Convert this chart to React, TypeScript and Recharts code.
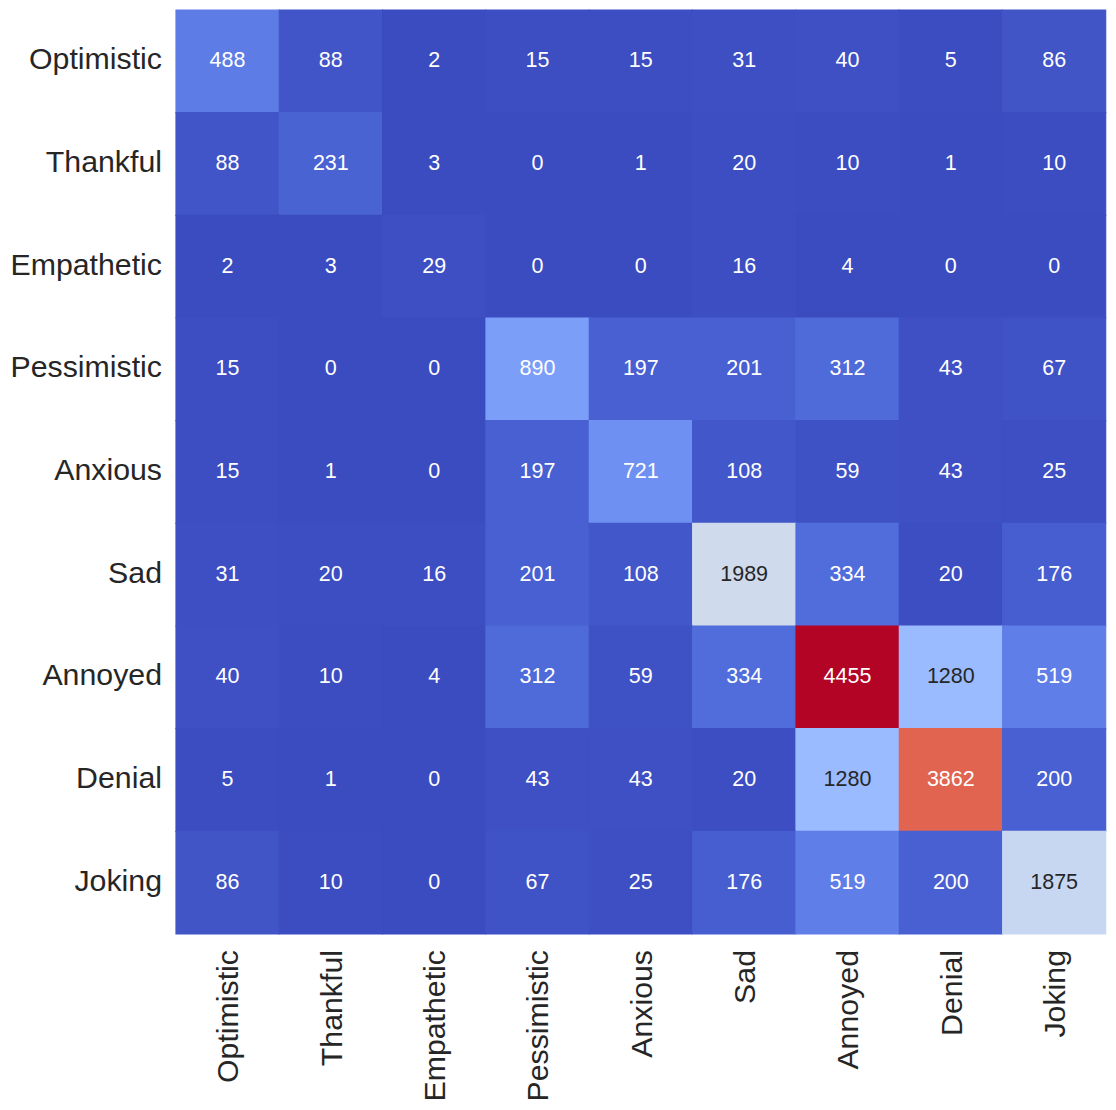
import { BarChart, Bar, XAxis, YAxis, Cell, LabelList } from 'recharts';

const emotions = ['Optimistic', 'Thankful', 'Empathetic', 'Pessimistic', 'Anxious', 'Sad', 'Annoyed', 'Denial', 'Joking'];

// confusion counts, one array per row (true label), columns in the same order as emotions
const optimistic = [488, 88, 2, 15, 15, 31, 40, 5, 86];
const thankful = [88, 231, 3, 0, 1, 20, 10, 1, 10];
const empathetic = [2, 3, 29, 0, 0, 16, 4, 0, 0];
const pessimistic = [15, 0, 0, 890, 197, 201, 312, 43, 67];
const anxious = [15, 1, 0, 197, 721, 108, 59, 43, 25];
const sad = [31, 20, 16, 201, 108, 1989, 334, 20, 176];
const annoyed = [40, 10, 4, 312, 59, 334, 4455, 1280, 519];
const denial = [5, 1, 0, 43, 43, 20, 1280, 3862, 200];
const joking = [86, 10, 0, 67, 25, 176, 519, 200, 1875];

const matrix = [optimistic, thankful, empathetic, pessimistic, anxious, sad, annoyed, denial, joking];

// Moreland diverging (coolwarm) table, 33 stops
const coolwarm = [
  [59, 76, 192], [68, 90, 204], [77, 104, 215], [87, 117, 225], [98, 130, 234],
  [108, 142, 241], [119, 154, 247], [130, 165, 251], [141, 176, 254], [152, 185, 255],
  [163, 194, 255], [174, 201, 253], [184, 208, 249], [194, 213, 244], [204, 217, 238],
  [213, 219, 230], [221, 221, 221], [229, 216, 209], [236, 211, 197], [241, 204, 185],
  [245, 196, 173], [247, 187, 160], [247, 177, 148], [247, 166, 135], [244, 154, 123],
  [241, 141, 111], [236, 127, 99], [229, 112, 88], [222, 96, 77], [213, 80, 66],
  [203, 62, 56], [192, 40, 47], [180, 4, 38],
];

const vmin = Math.min(...matrix.flat());
const vmax = Math.max(...matrix.flat());

function rgbFor(v: number) {
  const t = (v - vmin) / (vmax - vmin);
  const pos = t * (coolwarm.length - 1);
  const i = Math.min(Math.floor(pos), coolwarm.length - 2);
  const f = pos - i;
  return coolwarm[i].map((c, k) => Math.round(c + (coolwarm[i + 1][k] - c) * f));
}

function colorFor(v: number) {
  const [r, g, b] = rgbFor(v);
  return `rgb(${r},${g},${b})`;
}

// same rule seaborn uses to pick annotation colour
function textColorFor(v: number) {
  const lin = rgbFor(v).map((c) => {
    const s = c / 255;
    return s <= 0.03928 ? s / 12.92 : Math.pow((s + 0.055) / 1.055, 2.4);
  });
  const lum = 0.2126 * lin[0] + 0.7152 * lin[1] + 0.0722 * lin[2];
  return lum > 0.408 ? '#262626' : '#ffffff';
}

// one stacked segment of height 1 per row, for every column
const data = emotions.map((col) => {
  const entry: any = { col };
  emotions.forEach((_, i) => {
    entry[`r${i}`] = 1;
  });
  return entry;
});

const FONT = '"Liberation Sans", Arial, sans-serif';

const YTick = ({ x, y, payload }: any) => (
  <text x={x} y={y - 2.5} textAnchor="end" dominantBaseline="central" fontSize={30.3} fill="#262626" fontFamily={FONT}>
    {emotions[Math.floor(payload.value)]}
  </text>
);

const XTick = ({ x, y, payload }: any) => (
  <text
    x={x}
    y={y}
    transform={`rotate(-90, ${x}, ${y})`}
    textAnchor="end"
    dominantBaseline="central"
    fontSize={30.3}
    fill="#262626"
    fontFamily={FONT}
  >
    {payload.value}
  </text>
);

export default function App() {
  return (
    <div style={{ position: 'absolute', left: 0, top: 0, background: '#fff' }}>
      <BarChart
        width={1116}
        height={1110}
        data={data}
        margin={{ top: 10, right: 10, left: 0, bottom: 0 }}
        barCategoryGap={0}
        barGap={0}
      >
        <XAxis
          dataKey="col"
          type="category"
          interval={0}
          tickLine={false}
          axisLine={false}
          tickSize={0}
          tickMargin={16}
          height={176}
          tick={<XTick />}
        />
        <YAxis
          type="number"
          domain={[0, emotions.length]}
          reversed
          ticks={emotions.map((_, i) => i + 0.5)}
          interval={0}
          tickLine={false}
          axisLine={false}
          tickSize={0}
          tickMargin={14}
          width={176}
          tick={<YTick />}
        />
        {emotions.map((_, i) => (
          <Bar key={i} dataKey={`r${i}`} stackId="cm" isAnimationActive={false}>
            {matrix[i].map((v, j) => (
              // stroke in the fill colour closes the anti-aliasing seams between cells
              <Cell key={j} fill={colorFor(v)} stroke={colorFor(v)} strokeWidth={1.2} />
            ))}
            <LabelList
              dataKey={`r${i}`}
              content={(props: any) => {
                const { x, y, width, height, index } = props;
                const v = matrix[i][index];
                return (
                  <text
                    x={x + width / 2}
                    y={y + height / 2 - 1}
                    textAnchor="middle"
                    dominantBaseline="central"
                    fontSize={21.5}
                    fill={textColorFor(v)}
                    fontFamily={FONT}
                  >
                    {v}
                  </text>
                );
              }}
            />
          </Bar>
        ))}
      </BarChart>
    </div>
  );
}
